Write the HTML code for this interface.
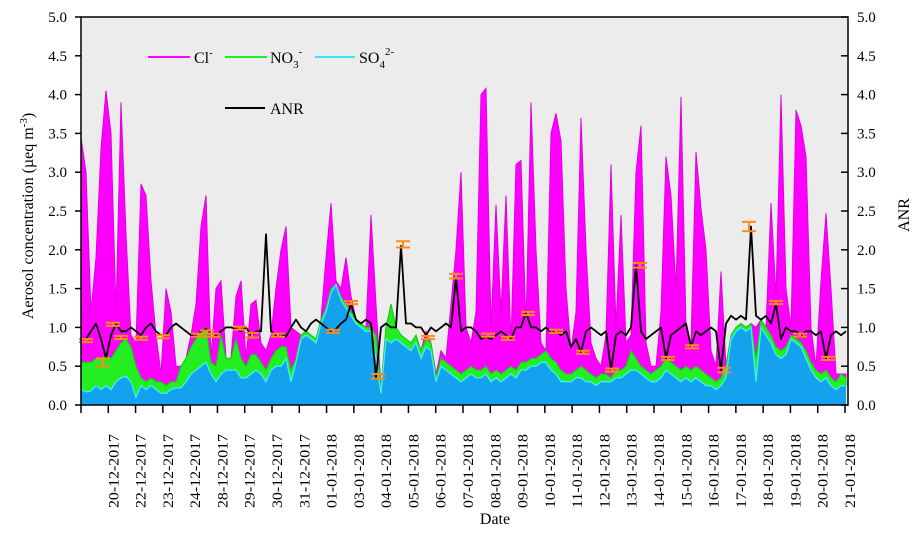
<!DOCTYPE html>
<html><head><meta charset="utf-8"><style>
html,body{margin:0;padding:0;background:#fff;}
svg{display:block;font-family:"Liberation Serif",serif;}
</style></head><body>
<svg id="chart" width="919" height="543" viewBox="0 0 919 543" xmlns="http://www.w3.org/2000/svg">
<rect x="81" y="17" width="767" height="388" fill="#ececec"/>
<g id="areas"></g>
<g id="anr"></g>
<g id="errs"></g>
<rect x="81" y="17" width="767" height="388" fill="none" stroke="#000" stroke-width="1.5"/>
<g id="axes"></g>
<text transform="translate(33,216) rotate(-90)" text-anchor="middle" font-size="16">Aerosol concentration (µeq m<tspan dy="-6" font-size="11">-3</tspan><tspan dy="6">)</tspan></text>
<text transform="translate(909,215) rotate(-90)" text-anchor="middle" font-size="16">ANR</text>
<text x="495" y="524" text-anchor="middle" font-size="16">Date</text>
<g font-size="16">
<line x1="148" y1="57" x2="190" y2="57" stroke="#ff00ff" stroke-width="2"/>
<text x="194" y="63">Cl<tspan dy="-7" font-size="11">-</tspan></text>
<line x1="225" y1="57" x2="267" y2="57" stroke="#22ee22" stroke-width="2"/>
<text x="270" y="63">NO<tspan dy="5" font-size="11">3</tspan><tspan dy="-13" font-size="11">-</tspan></text>
<line x1="315" y1="57" x2="355" y2="57" stroke="#33e6f2" stroke-width="2"/>
<text x="359" y="63">SO<tspan dy="5" font-size="11">4</tspan><tspan dy="-13" font-size="11">2-</tspan></text>
<line x1="225" y1="108" x2="265" y2="108" stroke="#000" stroke-width="2"/>
<text x="270" y="114">ANR</text>
</g>
</svg>
<script>
const dateLabels = ["20-12-2017","22-12-2017","23-12-2017","24-12-2017","28-12-2017","29-12-2017","30-12-2017","31-12-2017","01-01-2018","03-01-2018","04-01-2018","05-01-2018","06-01-2018","07-01-2018","08-01-2018","09-01-2018","10-01-2018","11-01-2018","12-01-2018","13-01-2018","14-01-2018","15-01-2018","16-01-2018","17-01-2018","18-01-2018","19-01-2018","20-01-2018","21-01-2018"];
const yTicks = ["0.0","0.5","1.0","1.5","2.0","2.5","3.0","3.5","4.0","4.5","5.0"];
const totalIons = [3.45,3.0,1.2,1.9,3.3,4.05,3.5,1.2,3.9,2.2,
0.9,0.8,2.85,2.7,1.6,0.9,0.4,1.5,1.2,0.5,
0.5,0.6,0.9,1.3,2.3,2.7,0.6,1.5,1.6,0.5,
0.55,1.4,1.6,0.6,1.3,1.35,0.8,0.7,0.9,1.5,
2.0,2.3,1.0,0.95,0.9,0.95,0.9,0.85,1.1,1.9,
2.6,1.6,1.5,1.9,1.4,1.1,1.05,1.0,2.45,1.3,
0.2,1.0,1.3,1.0,0.9,0.85,0.8,0.9,0.7,0.95,
0.8,0.4,0.7,0.6,1.3,2.0,3.0,1.0,0.8,1.2,
4.0,4.08,1.0,2.58,1.2,2.7,0.8,3.1,3.15,1.0,
3.9,2.0,0.8,0.7,3.5,3.76,3.4,1.5,0.7,1.2,
3.7,2.0,0.8,0.6,0.5,0.9,3.1,1.0,2.45,0.8,
0.9,3.0,3.6,0.8,0.5,0.5,1.2,3.2,2.7,1.5,
3.97,1.0,0.8,3.26,2.53,2.0,0.7,0.5,1.72,0.5,
0.9,1.0,1.05,1.0,1.05,1.0,1.1,1.0,2.6,1.4,
4.0,1.5,1.0,3.8,3.6,3.2,1.0,0.5,1.6,2.47,
1.5,0.4,0.35,0.4];
const so4PlusNo3 = [0.55,0.55,0.55,0.6,0.6,0.65,0.6,0.7,0.8,0.85,
0.75,0.5,0.35,0.3,0.35,0.3,0.3,0.25,0.3,0.3,
0.5,0.6,0.75,0.85,0.95,1.0,0.55,0.5,0.9,0.6,
0.6,0.85,0.6,0.5,0.65,0.65,0.55,0.45,0.6,0.7,
0.75,0.75,0.45,0.6,0.9,0.95,0.9,0.85,1.1,1.25,
1.5,1.55,1.4,1.3,1.2,1.1,1.05,1.0,1.0,0.9,
0.2,1.0,1.3,1.0,0.9,0.85,0.8,0.9,0.7,0.85,
0.8,0.35,0.6,0.55,0.5,0.45,0.4,0.45,0.5,0.45,
0.45,0.5,0.4,0.45,0.4,0.45,0.5,0.45,0.55,0.55,
0.6,0.6,0.65,0.7,0.6,0.55,0.45,0.4,0.4,0.45,
0.5,0.45,0.4,0.35,0.4,0.4,0.35,0.45,0.45,0.5,
0.7,0.6,0.5,0.45,0.4,0.45,0.5,0.6,0.55,0.5,
0.45,0.5,0.45,0.5,0.45,0.4,0.35,0.3,0.35,0.5,
0.9,1.0,1.05,1.0,1.05,0.6,1.1,1.0,0.9,0.75,
0.7,0.75,0.9,0.85,0.8,0.7,0.55,0.45,0.4,0.45,
0.35,0.3,0.4,0.35];
const so4 = [0.2,0.17,0.18,0.25,0.2,0.25,0.2,0.3,0.35,0.37,
0.3,0.1,0.25,0.2,0.25,0.2,0.15,0.15,0.2,0.22,
0.22,0.3,0.4,0.45,0.5,0.55,0.4,0.3,0.4,0.45,
0.45,0.45,0.35,0.35,0.4,0.45,0.4,0.3,0.45,0.5,
0.5,0.6,0.3,0.55,0.85,0.9,0.85,0.8,1.05,1.2,
1.45,1.55,1.35,1.25,1.15,1.05,1.0,0.95,0.95,0.6,
0.15,0.85,0.8,0.85,0.8,0.75,0.7,0.8,0.6,0.75,
0.7,0.3,0.5,0.45,0.4,0.35,0.3,0.35,0.4,0.35,
0.35,0.4,0.3,0.35,0.3,0.35,0.4,0.35,0.45,0.45,
0.5,0.5,0.55,0.55,0.45,0.4,0.3,0.3,0.3,0.35,
0.35,0.3,0.3,0.25,0.3,0.3,0.3,0.35,0.35,0.4,
0.45,0.45,0.4,0.35,0.3,0.3,0.35,0.45,0.4,0.35,
0.3,0.35,0.3,0.35,0.3,0.25,0.25,0.2,0.25,0.35,
0.85,0.95,1.0,0.95,1.0,0.3,1.0,0.9,0.8,0.65,
0.6,0.65,0.85,0.8,0.75,0.6,0.45,0.35,0.3,0.35,
0.25,0.2,0.25,0.25];
const anrVals = [0.85,0.85,0.95,1.05,0.85,0.6,0.9,1.05,0.95,0.95,
1.0,0.95,0.9,1.0,1.05,0.95,0.9,0.9,1.0,1.05,
1.0,0.95,0.9,0.88,0.95,0.98,0.92,0.9,0.95,1.0,
1.0,0.98,0.95,1.0,0.9,0.95,0.95,2.2,0.95,0.9,
0.92,0.88,1.0,1.1,1.0,0.95,1.05,1.1,1.05,1.0,
0.95,0.98,1.05,1.1,1.3,1.1,1.05,1.1,1.05,0.35,
1.0,1.05,1.0,1.0,2.05,1.05,1.05,1.0,1.0,0.9,
1.0,0.95,1.0,1.05,1.0,1.65,0.95,1.0,1.0,0.95,
0.85,0.88,0.85,0.9,0.95,0.9,0.85,1.0,1.0,1.2,
1.0,1.0,0.95,1.0,0.93,0.95,0.9,0.95,0.75,0.85,
0.68,0.95,1.0,0.95,0.9,0.95,0.45,0.9,0.95,0.9,
1.0,1.8,0.95,0.85,0.9,0.95,1.0,0.6,0.9,0.95,
1.0,1.05,0.75,0.95,0.9,0.95,1.0,0.95,0.45,1.05,
1.15,1.1,1.15,1.1,2.3,1.15,1.1,1.15,1.05,1.3,
0.85,1.0,0.95,0.95,0.9,0.95,0.95,0.9,0.95,0.6,
0.9,0.95,0.9,0.95];
const errIdx = [1,4.4,6.4,8,12,16.4,23.4,25.2,26.4,31.8,34.2,39.4,50.4,54,59.4,64.4,69.4,75,81.4,85.4,89.4,95,100.4,106.2,111.8,117.4,122.2,128.6,133.6,139,143.8,149.4];
const errMean = [0.83,0.55,1.04,0.87,0.86,0.88,0.9,0.94,0.9,0.99,0.9,0.9,0.95,1.32,0.37,2.07,0.87,1.66,0.9,0.86,1.18,0.95,0.68,0.45,1.8,0.6,0.75,0.45,2.3,1.32,0.9,0.6];
const errHalf = [0.02,0.05,0.02,0.02,0.02,0.02,0.02,0.02,0.02,0.02,0.03,0.02,0.02,0.02,0.03,0.04,0.02,0.03,0.02,0.02,0.02,0.02,0.02,0.02,0.03,0.02,0.02,0.03,0.06,0.02,0.02,0.02];

const NS='http://www.w3.org/2000/svg';
const X0=81, X1=848, Y0=405, Y1=17;
const xS = i => X0 + i*(X1-X0-2)/(totalIons.length-1);
const yS = v => Y0 - v*(Y0-Y1)/5;
const tickX = k => X0 + k*(845-X0)/28;
function mk(tag, parent, attrs){const e=document.createElementNS(NS,tag);for(const k in attrs)e.setAttribute(k,attrs[k]);parent.appendChild(e);return e;}
const areas=document.getElementById('areas');
function band(lo, hi, fill, name, stroke){
  let d='M'+xS(0)+','+yS(hi[0]);
  for(let i=1;i<hi.length;i++) d+='L'+xS(i).toFixed(1)+','+yS(hi[i]).toFixed(1);
  for(let i=lo.length-1;i>=0;i--) d+='L'+xS(i).toFixed(1)+','+yS(lo[i]).toFixed(1);
  d+='Z';
  const p=mk('path',areas,{d:d,fill:fill,stroke:stroke||'none','stroke-width':1});
  
  
}
const zeros=so4.map(()=>0);
const g2=so4PlusNo3.map((v,i)=>Math.max(v,so4[i]));
const tot=totalIons.map((v,i)=>Math.max(v,g2[i]));
band(g2,tot,'#ff00ff','cl-area','#e000e0');
band(so4,g2,'#22ee22','no3-area','#10d010');
band(zeros,so4,'#14a2ef','so4-area');
let sd='';
so4.forEach((v,i)=>{sd+=(i?'L':'M')+xS(i).toFixed(1)+','+yS(v).toFixed(1);});
const sl=mk('path',areas,{d:sd,fill:'none',stroke:'#3ff0f5','stroke-width':1.3});


const anrG=document.getElementById('anr');
let ad='';
anrVals.forEach((v,i)=>{ad+=(i?'L':'M')+xS(i).toFixed(1)+','+yS(v).toFixed(1);});
const al=mk('path',anrG,{d:ad,fill:'none',stroke:'#000','stroke-width':1.8,'stroke-linejoin':'round'});


const eg=document.getElementById('errs');
errIdx.forEach((ix,j)=>{
  const x=xS(ix), yt=yS(errMean[j]+errHalf[j]), yb=yS(errMean[j]-errHalf[j]);
  const g=mk('g',eg,{stroke:'#ff8c1a','stroke-width':2});
  
  
  mk('line',g,{x1:x,y1:yt,x2:x,y2:yb});
  mk('line',g,{x1:x-7,y1:yt,x2:x+7,y2:yt});
  mk('line',g,{x1:x-7,y1:yb,x2:x+7,y2:yb});
});
const ax=document.getElementById('axes');
yTicks.forEach((t,k)=>{
  const y=yS(parseFloat(t));
  const l1=mk('line',ax,{x1:X0-6,y1:y,x2:X0,y2:y,stroke:'#000','stroke-width':1.5});
  
  
  const l2=mk('line',ax,{x1:X1-7,y1:y,x2:X1,y2:y,stroke:'#000','stroke-width':1.5});
  
  
  const tl=mk('text',ax,{x:67,y:y+5,'text-anchor':'end','font-size':15});
  tl.textContent=t;
  
  
  const tr=mk('text',ax,{x:857,y:y+5,'text-anchor':'start','font-size':15});
  tr.textContent=t;
  
  
});
for(let k=0;k<=28;k++){
  const l=mk('line',ax,{x1:tickX(k),y1:Y0,x2:tickX(k),y2:413,stroke:'#000','stroke-width':1.5});
  
  
}
dateLabels.forEach((d,k)=>{
  const x=tickX(k+1)+10;
  const t=mk('text',ax,{transform:'translate('+x+',434) rotate(-90)','text-anchor':'end','font-size':15,'textLength':74,'lengthAdjust':'spacingAndGlyphs'});
  t.textContent=d;
  
  
});
</script>
</body></html>
